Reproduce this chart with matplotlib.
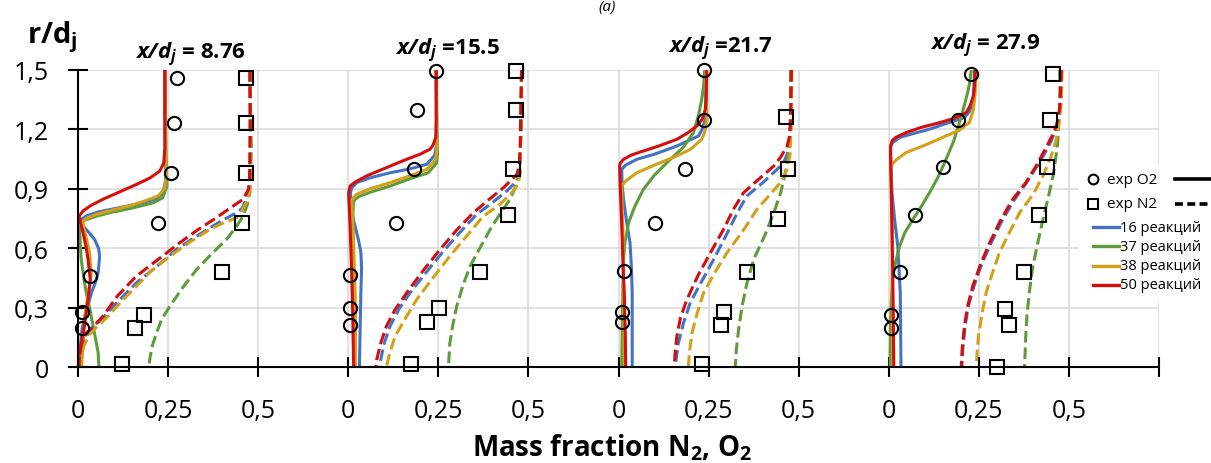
import matplotlib

matplotlib.use("Agg")

import matplotlib.pyplot as plt
import numpy as np
from matplotlib.lines import Line2D
from matplotlib.patches import Rectangle

# ---- data (mass fraction vs r/dj), one sub-list per station ----
stations = ["8.76", "15.5", "21.7", "27.9"]
title_txt = [" = 8.76", " =15.5", " =21.7", " = 27.9"]

exp_o2_x = [
    [0.275, 0.266, 0.259, 0.223, 0.032, 0.012, 0.012],
    [0.243, 0.192, 0.182, 0.132, 0.005, 0.005, 0.005],
    [0.238, 0.238, 0.185, 0.100, 0.016, 0.009, 0.009],
    [0.229, 0.192, 0.150, 0.074, 0.031, 0.006, 0.006],
]
exp_o2_r = [
    [1.462, 1.231, 0.978, 0.729, 0.462, 0.278, 0.197],
    [1.496, 1.298, 1.002, 0.729, 0.464, 0.297, 0.211],
    [1.500, 1.246, 0.998, 0.729, 0.484, 0.278, 0.228],
    [1.482, 1.248, 1.012, 0.766, 0.481, 0.261, 0.197],
]
exp_n2_x = [
    [0.465, 0.465, 0.465, 0.456, 0.400, 0.182, 0.157, 0.123],
    [0.465, 0.465, 0.456, 0.444, 0.366, 0.251, 0.218, 0.174],
    [0.466, 0.470, 0.443, 0.358, 0.294, 0.284, 0.233],
    [0.457, 0.448, 0.440, 0.416, 0.374, 0.324, 0.333, 0.300],
]
exp_n2_r = [
    [1.462, 1.234, 0.981, 0.729, 0.481, 0.261, 0.197, 0.017],
    [1.496, 1.298, 1.002, 0.766, 0.481, 0.297, 0.228, 0.017],
    [1.265, 0.998, 0.745, 0.481, 0.278, 0.214, 0.017],
    [1.482, 1.248, 1.012, 0.766, 0.481, 0.295, 0.211, 0.000],
]

# model curves: (mass fraction, r/dj) points, per station
o2_16 = [
    [(0.241, 1.5), (0.242, 1.2), (0.243, 1.02), (0.244, 0.95), (0.236, 0.88), (0.218, 0.85),
     (0.17, 0.825), (0.116, 0.805), (0.06, 0.785), (0.025, 0.765), (0.009, 0.745), (0.014, 0.712),
     (0.03, 0.68), (0.046, 0.644), (0.057, 0.6), (0.06, 0.56), (0.056, 0.476), (0.047, 0.42),
     (0.037, 0.374), (0.028, 0.31), (0.019, 0.256), (0.012, 0.2), (0.009, 0.155), (0.006, 0.08), (0.005, 0)],
    [(0.244, 1.5), (0.245, 1.25), (0.245, 1.12), (0.24, 1.07), (0.218, 1.024), (0.17, 1.0),
     (0.116, 0.981), (0.06, 0.955), (0.023, 0.931), (0.01, 0.905), (0.006, 0.88), (0.009, 0.8),
     (0.015, 0.74), (0.028, 0.644), (0.035, 0.58), (0.037, 0.5), (0.035, 0.374), (0.033, 0.2), (0.031, 0)],
    [(0.243, 1.5), (0.242, 1.35), (0.241, 1.251), (0.232, 1.2), (0.222, 1.167), (0.19, 1.14),
     (0.162, 1.116), (0.1, 1.075), (0.051, 1.049), (0.02, 1.02), (0.009, 0.998), (0.01, 0.92),
     (0.014, 0.847), (0.022, 0.74), (0.032, 0.627), (0.036, 0.5), (0.038, 0.374), (0.038, 0)],
    [(0.238, 1.5), (0.236, 1.4), (0.233, 1.336), (0.224, 1.29), (0.21, 1.26), (0.16, 1.23),
     (0.113, 1.201), (0.06, 1.175), (0.03, 1.159), (0.012, 1.135), (0.005, 1.116), (0.006, 1.0),
     (0.009, 0.88), (0.016, 0.75), (0.025, 0.61), (0.032, 0.374), (0.034, 0)],
]
o2_37 = [
    [(0.241, 1.5), (0.244, 1.1), (0.246, 0.97), (0.247, 0.914), (0.235, 0.855), (0.21, 0.83),
     (0.144, 0.8), (0.09, 0.78), (0.051, 0.762), (0.02, 0.742), (0.009, 0.729), (0.005, 0.678),
     (0.007, 0.6), (0.009, 0.543), (0.016, 0.45), (0.023, 0.374), (0.033, 0.29), (0.042, 0.206),
     (0.05, 0.13), (0.056, 0.071), (0.058, 0)],
    [(0.244, 1.5), (0.246, 1.2), (0.248, 1.08), (0.245, 1.03), (0.222, 0.981), (0.17, 0.95),
     (0.116, 0.914), (0.065, 0.885), (0.032, 0.863), (0.018, 0.845), (0.014, 0.83), (0.012, 0.712),
     (0.012, 0.5), (0.014, 0.374), (0.017, 0.2), (0.019, 0)],
    [(0.239, 1.5), (0.236, 1.42), (0.231, 1.352), (0.222, 1.27), (0.208, 1.184), (0.18, 1.11),
     (0.144, 1.049), (0.1, 0.97), (0.069, 0.897), (0.045, 0.81), (0.028, 0.729), (0.018, 0.63),
     (0.014, 0.543), (0.011, 0.3), (0.009, 0)],
    [(0.229, 1.5), (0.225, 1.44), (0.219, 1.386), (0.208, 1.31), (0.196, 1.234), (0.18, 1.14),
     (0.159, 1.049), (0.137, 0.96), (0.113, 0.88), (0.09, 0.81), (0.067, 0.745), (0.045, 0.68),
     (0.03, 0.61), (0.019, 0.53), (0.011, 0.459), (0.007, 0.33), (0.005, 0.206), (0.004, 0)],
]
o2_38 = [
    [(0.241, 1.5), (0.243, 1.1), (0.245, 0.96), (0.24, 0.9), (0.222, 0.863), (0.18, 0.835),
     (0.144, 0.815), (0.09, 0.79), (0.051, 0.771), (0.025, 0.752), (0.014, 0.737), (0.016, 0.7),
     (0.022, 0.66), (0.032, 0.577), (0.037, 0.476), (0.033, 0.42), (0.028, 0.374), (0.019, 0.256),
     (0.014, 0.121), (0.01, 0)],
    [(0.244, 1.5), (0.245, 1.2), (0.246, 1.1), (0.243, 1.05), (0.218, 0.998), (0.17, 0.965),
     (0.116, 0.931), (0.06, 0.9), (0.023, 0.872), (0.01, 0.845), (0.009, 0.83), (0.012, 0.75),
     (0.014, 0.678), (0.017, 0.5), (0.019, 0.374), (0.02, 0.2), (0.02, 0)],
    [(0.243, 1.5), (0.244, 1.35), (0.245, 1.251), (0.24, 1.19), (0.231, 1.15), (0.2, 1.1),
     (0.162, 1.066), (0.1, 1.02), (0.051, 0.981), (0.02, 0.94), (0.009, 0.914), (0.01, 0.8),
     (0.012, 0.712), (0.014, 0.374), (0.016, 0)],
    [(0.241, 1.5), (0.241, 1.44), (0.24, 1.386), (0.235, 1.3), (0.224, 1.234), (0.195, 1.195),
     (0.159, 1.167), (0.1, 1.12), (0.048, 1.083), (0.02, 1.045), (0.006, 1.015), (0.007, 0.9),
     (0.009, 0.712), (0.01, 0.35), (0.011, 0)],
]
o2_50 = [
    [(0.241, 1.5), (0.241, 1.1), (0.238, 1.03), (0.227, 0.99), (0.2, 0.955), (0.162, 0.922),
     (0.11, 0.88), (0.069, 0.847), (0.035, 0.815), (0.014, 0.788), (0.003, 0.762), (0.008, 0.72),
     (0.014, 0.678), (0.022, 0.61), (0.028, 0.543), (0.034, 0.442), (0.031, 0.39), (0.028, 0.341),
     (0.019, 0.223), (0.009, 0.121), (0.003, 0.037), (0.003, 0)],
    [(0.244, 1.5), (0.244, 1.25), (0.243, 1.16), (0.235, 1.12), (0.227, 1.1), (0.2, 1.075),
     (0.162, 1.049), (0.11, 1.01), (0.051, 0.965), (0.02, 0.935), (0.005, 0.914), (0.001, 0.88),
     (0.003, 0.8), (0.005, 0.712), (0.009, 0.5), (0.012, 0.3), (0.014, 0.1), (0.015, 0)],
    [(0.245, 1.5), (0.243, 1.35), (0.241, 1.302), (0.232, 1.25), (0.218, 1.218), (0.19, 1.18),
     (0.162, 1.15), (0.11, 1.115), (0.069, 1.091), (0.035, 1.07), (0.014, 1.049), (0.005, 1.03),
     (0.003, 1.015), (0.005, 0.9), (0.009, 0.712), (0.013, 0.5), (0.016, 0.374), (0.019, 0.15), (0.02, 0)],
    [(0.24, 1.5), (0.238, 1.42), (0.235, 1.369), (0.226, 1.32), (0.215, 1.285), (0.18, 1.255),
     (0.141, 1.234), (0.09, 1.21), (0.048, 1.184), (0.02, 1.16), (0.009, 1.142), (0.005, 1.11),
     (0.005, 1.083), (0.007, 0.9), (0.009, 0.712), (0.012, 0.35), (0.014, 0)],
]
n2_16 = [
    [(0.477, 1.5), (0.478, 1.25), (0.478, 1.0), (0.476, 0.92), (0.47, 0.86), (0.455, 0.8),
     (0.44, 0.779), (0.4, 0.74), (0.366, 0.703), (0.32, 0.65), (0.273, 0.594), (0.22, 0.51),
     (0.162, 0.425), (0.11, 0.33), (0.069, 0.248), (0.04, 0.195), (0.023, 0.155), (0.009, 0.088), (0.004, 0)],
    [(0.481, 1.5), (0.479, 1.3), (0.478, 1.1), (0.476, 1.0), (0.468, 0.94), (0.44, 0.889),
     (0.4, 0.83), (0.356, 0.771), (0.31, 0.68), (0.264, 0.585), (0.215, 0.475), (0.171, 0.374),
     (0.14, 0.29), (0.116, 0.206), (0.1, 0.12), (0.09, 0.037), (0.088, 0)],
    [(0.48, 1.5), (0.479, 1.3), (0.478, 1.18), (0.474, 1.1), (0.46, 1.04), (0.44, 0.998),
     (0.4, 0.93), (0.356, 0.863), (0.33, 0.78), (0.3, 0.67), (0.264, 0.543), (0.23, 0.43),
     (0.199, 0.324), (0.18, 0.22), (0.166, 0.12), (0.16, 0.04), (0.158, 0)],
    [(0.479, 1.5), (0.477, 1.4), (0.475, 1.29), (0.466, 1.21), (0.451, 1.142), (0.43, 1.07),
     (0.409, 1.007), (0.38, 0.925), (0.346, 0.838), (0.312, 0.73), (0.282, 0.619), (0.256, 0.51),
     (0.235, 0.4), (0.22, 0.3), (0.212, 0.206), (0.206, 0.1), (0.203, 0)],
]
n2_37 = [
    [(0.477, 1.5), (0.479, 1.3), (0.481, 1.1), (0.479, 0.98), (0.477, 0.88), (0.47, 0.82),
     (0.458, 0.762), (0.44, 0.71), (0.412, 0.644), (0.37, 0.57), (0.329, 0.492), (0.29, 0.4),
     (0.255, 0.307), (0.232, 0.24), (0.218, 0.172), (0.205, 0.1), (0.199, 0.037), (0.197, 0)],
    [(0.481, 1.5), (0.481, 1.218), (0.476, 1.05), (0.472, 0.965), (0.462, 0.9), (0.449, 0.847),
     (0.42, 0.77), (0.394, 0.695), (0.365, 0.6), (0.338, 0.509), (0.318, 0.41), (0.301, 0.307),
     (0.29, 0.21), (0.282, 0.121), (0.278, 0)],
    [(0.477, 1.5), (0.477, 1.3), (0.475, 1.133), (0.47, 1.05), (0.463, 0.981), (0.45, 0.88),
     (0.431, 0.779), (0.405, 0.66), (0.375, 0.543), (0.356, 0.42), (0.343, 0.307), (0.334, 0.2),
     (0.327, 0.088), (0.324, 0)],
    [(0.474, 1.5), (0.475, 1.4), (0.474, 1.302), (0.469, 1.133), (0.463, 1.05), (0.456, 0.965),
     (0.443, 0.86), (0.428, 0.745), (0.414, 0.63), (0.4, 0.509), (0.391, 0.39), (0.384, 0.273),
     (0.38, 0.15), (0.377, 0)],
]
n2_38 = [
    [(0.477, 1.5), (0.478, 1.25), (0.478, 1.0), (0.476, 0.88), (0.47, 0.84), (0.455, 0.79),
     (0.44, 0.754), (0.4, 0.725), (0.366, 0.695), (0.31, 0.63), (0.255, 0.56), (0.2, 0.48),
     (0.162, 0.408), (0.12, 0.33), (0.079, 0.248), (0.05, 0.2), (0.03, 0.16), (0.015, 0.1), (0.006, 0)],
    [(0.481, 1.5), (0.479, 1.3), (0.478, 1.1), (0.477, 0.973), (0.47, 0.92), (0.454, 0.88),
     (0.42, 0.82), (0.375, 0.762), (0.33, 0.665), (0.282, 0.56), (0.235, 0.45), (0.19, 0.341),
     (0.16, 0.25), (0.13, 0.155), (0.115, 0.07), (0.106, 0)],
    [(0.481, 1.5), (0.479, 1.3), (0.477, 1.083), (0.468, 1.0), (0.449, 0.931), (0.42, 0.87),
     (0.384, 0.796), (0.35, 0.7), (0.301, 0.577), (0.265, 0.47), (0.236, 0.374), (0.218, 0.27),
     (0.204, 0.172), (0.197, 0.08), (0.194, 0)],
    [(0.481, 1.5), (0.48, 1.42), (0.479, 1.336), (0.473, 1.24), (0.465, 1.15), (0.45, 1.06),
     (0.428, 0.965), (0.4, 0.87), (0.363, 0.779), (0.335, 0.68), (0.307, 0.577), (0.287, 0.47),
     (0.27, 0.374), (0.258, 0.26), (0.249, 0.155), (0.245, 0.07), (0.243, 0)],
]
n2_50 = [
    [(0.477, 1.5), (0.478, 1.25), (0.477, 1.049), (0.476, 0.95), (0.473, 0.897), (0.458, 0.847),
     (0.42, 0.8), (0.384, 0.754), (0.33, 0.69), (0.282, 0.627), (0.22, 0.54), (0.162, 0.459),
     (0.11, 0.36), (0.069, 0.256), (0.04, 0.2), (0.023, 0.172), (0.01, 0.12), (0.004, 0.06), (0.003, 0)],
    [(0.481, 1.5), (0.479, 1.3), (0.477, 1.1), (0.475, 1.02), (0.468, 0.973), (0.45, 0.94),
     (0.431, 0.906), (0.39, 0.845), (0.347, 0.779), (0.3, 0.69), (0.255, 0.594), (0.205, 0.48),
     (0.162, 0.374), (0.13, 0.29), (0.106, 0.206), (0.09, 0.12), (0.079, 0.037), (0.077, 0)],
    [(0.48, 1.5), (0.478, 1.3), (0.477, 1.218), (0.474, 1.16), (0.468, 1.116), (0.45, 1.06),
     (0.431, 1.015), (0.39, 0.95), (0.347, 0.88), (0.32, 0.8), (0.29, 0.69), (0.255, 0.577),
     (0.22, 0.46), (0.19, 0.341), (0.172, 0.25), (0.162, 0.155), (0.157, 0.07), (0.155, 0)],
    [(0.479, 1.5), (0.477, 1.4), (0.474, 1.302), (0.468, 1.24), (0.46, 1.192), (0.44, 1.12),
     (0.409, 1.015), (0.38, 0.93), (0.344, 0.847), (0.31, 0.74), (0.28, 0.627), (0.255, 0.52),
     (0.233, 0.408), (0.218, 0.3), (0.21, 0.206), (0.204, 0.1), (0.201, 0)],
]

models = ["16 реакций", "37 реакций", "38 реакций", "50 реакций"]
colours = ["#4472c4", "#5f9b3b", "#d4a017", "#d60d0d"]
o2_models = [o2_16, o2_37, o2_38, o2_50]
n2_models = [n2_16, n2_37, n2_38, n2_50]

# ---- styling ----
plt.rcParams["font.family"] = ["Open Sans", "DejaVu Sans"]
plt.rcParams["mathtext.fontset"] = "custom"
plt.rcParams["mathtext.rm"] = "Open Sans"
plt.rcParams["mathtext.it"] = "Open Sans:italic"
plt.rcParams["mathtext.bf"] = "Open Sans:bold"
plt.rcParams["mathtext.bfit"] = "Open Sans:italic:bold"

W, H = 1211, 464
fig = plt.figure(figsize=(W / 100, H / 100), dpi=100)
ax = fig.add_axes((78 / W, 1 - 368 / H, 1081 / W, 297 / H))

span = 0.75  # width of one station block on the shared x axis
dash = (0, (3.8, 1.6))

for k in range(len(stations)):
    off = k * span
    for curves, c in zip(o2_models, colours):
        xs, rs = zip(*curves[k])
        ax.plot(np.array(xs) + off, rs, color=c, lw=2.2, solid_capstyle="butt", zorder=3)
    for curves, c in zip(n2_models, colours):
        xs, rs = zip(*curves[k])
        ax.plot(np.array(xs) + off, rs, color=c, lw=2.2, ls=dash, zorder=3)
    ax.plot(np.array(exp_o2_x[k]) + off, exp_o2_r[k], ls="none", marker="o", ms=9.5,
            mfc="none", mec="black", mew=1.5, zorder=5, clip_on=False)
    ax.plot(np.array(exp_n2_x[k]) + off, exp_n2_r[k], ls="none", marker="s", ms=9.5,
            mfc="none", mec="black", mew=1.5, zorder=5, clip_on=False)

ax.set_xlim(0, 3.0)
ax.set_ylim(0, 1.5)
xt = np.arange(0, 3.01, 0.25)
ax.set_xticks(xt)
ax.set_xticklabels((["0", "0,25", "0,5"] * 4) + [""])
ax.set_yticks([0, 0.3, 0.6, 0.9, 1.2, 1.5])
ax.set_yticklabels(["0", "0,3", "0,6", "0,9", "1,2", "1,5"])
ax.tick_params(axis="both", direction="inout", length=14, width=1.5, labelsize=18, color="black")
ax.tick_params(axis="x", pad=15)
ax.tick_params(axis="y", pad=14)
ax.grid(True, color="#d9d9d9", lw=1.1, zorder=0)
ax.set_axisbelow(True)
for s in ["top", "right"]:
    ax.spines[s].set_visible(False)
for s in ["left", "bottom"]:
    ax.spines[s].set_linewidth(1.5)
    ax.spines[s].set_color("black")
    ax.spines[s].set_zorder(4)


def fx(px):
    return px / W


def fy(py):
    return 1 - py / H


# titles and axis labels
title_pos = [(190, 59), (447, 55), (720, 53), (985, 50)]
for (px, py), t in zip(title_pos, title_txt):
    fig.text(fx(px), fy(py), r"$\mathbfit{x/d_j}$" + t, ha="center", va="baseline",
             fontsize=16, fontweight="bold")
fig.text(fx(27), fy(43), r"$\mathbf{r/d_j}$", ha="left", va="baseline", fontsize=21)
fig.text(fx(612), fy(457), r"Mass fraction N$_\mathbf{2}$, O$_\mathbf{2}$", ha="center",
         va="baseline", fontsize=20, fontweight="bold")
fig.text(fx(607), fy(0.5), "(a)", ha="center", va="top", fontsize=11, style="italic")

# legend drawn by hand (Excel-style layout)
fig.add_artist(Rectangle((fx(1079), fy(303)), fx(1211) - fx(1079), fy(165) - fy(303),
                         transform=fig.transFigure, facecolor="white", edgecolor="none", zorder=6))
leg_rows = [("exp O2", "o", "-", 180), ("exp N2", "s", (0, (2.2, 1.2)), 205)]
for lab, mk, ls, py in leg_rows:
    fig.add_artist(Line2D([fx(1093)], [fy(py)], marker=mk, ms=7, mfc="none", mec="black", mew=1.5,
                          ls="none", transform=fig.transFigure, zorder=7))
    fig.text(fx(1107), fy(py), lab, ha="left", va="center", fontsize=11, zorder=7)
    fig.add_artist(Line2D([fx(1175), fx(1215)], [fy(py), fy(py)], color="black", lw=2.6, ls=ls,
                          transform=fig.transFigure, zorder=7))
for i, (lab, c) in enumerate(zip(models, colours)):
    py = 228 + i * 19.3
    fig.add_artist(Line2D([fx(1093), fx(1119)], [fy(py), fy(py)], color=c, lw=2.4,
                          transform=fig.transFigure, zorder=7))
    fig.text(fx(1120), fy(py), lab, ha="left", va="center", fontsize=10.5, zorder=7)

fig.savefig("out.png", dpi=100)
